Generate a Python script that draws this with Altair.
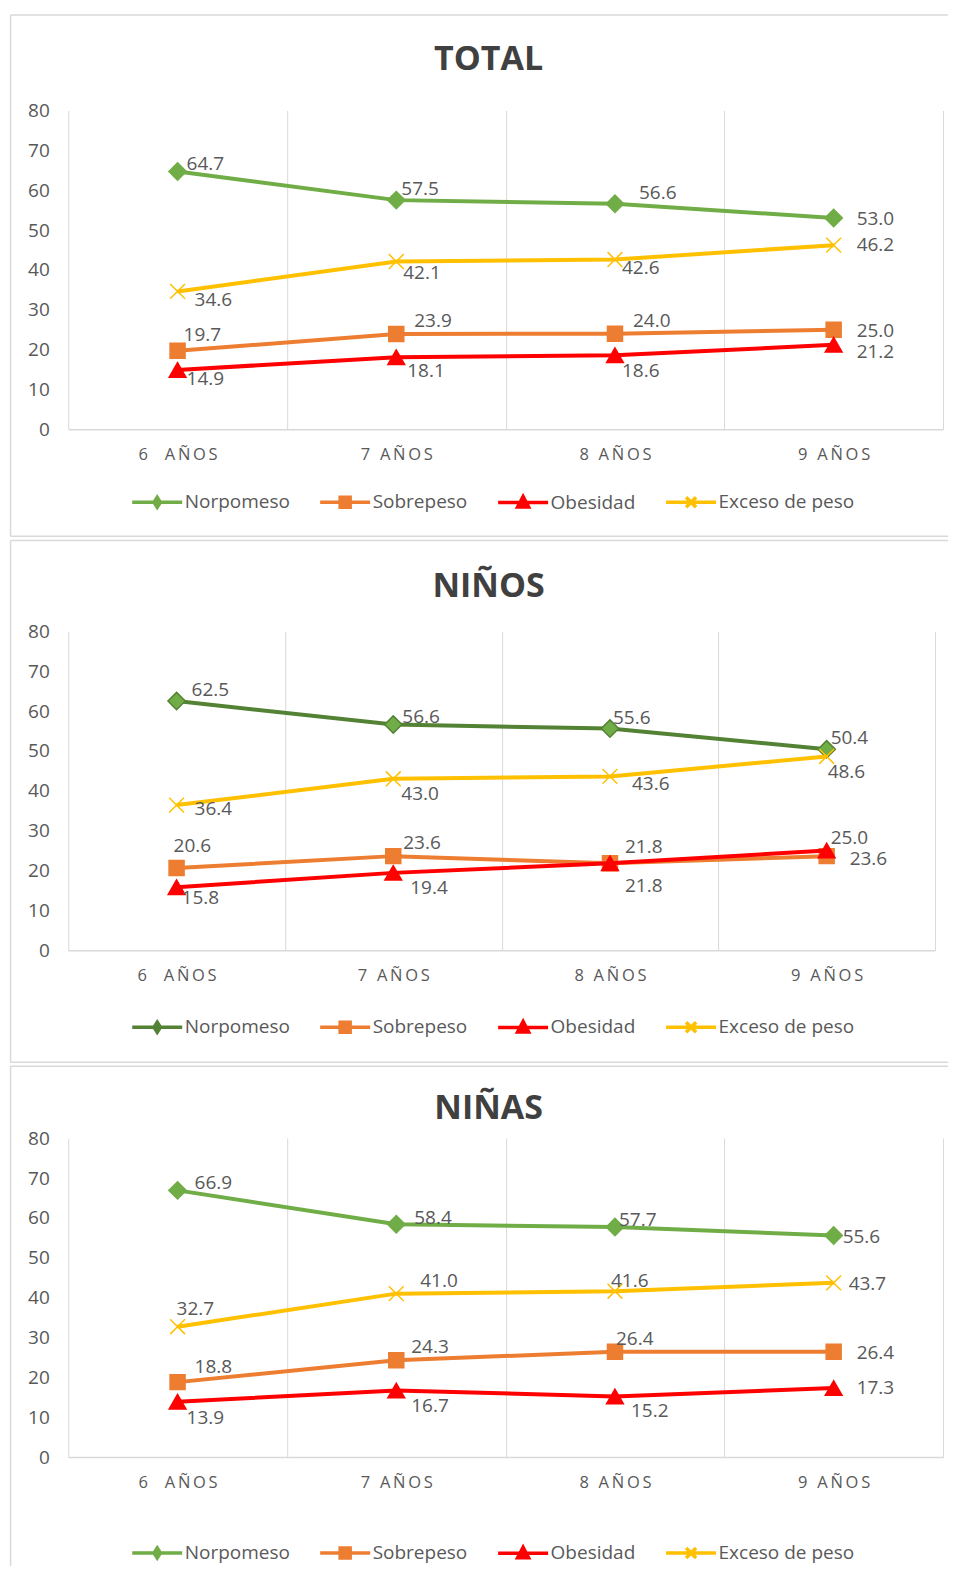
import altair as alt
import pandas as pd

# ---------------- data ----------------
CATEGORIES = ["6  AÑOS", "7 AÑOS", "8 AÑOS", "9 AÑOS"]
SERIES = ["Norpomeso", "Sobrepeso", "Obesidad", "Exceso de peso"]

TOTAL_NORPOMESO = [64.7, 57.5, 56.6, 53.0]
TOTAL_SOBREPESO = [19.7, 23.9, 24.0, 25.0]
TOTAL_OBESIDAD = [14.9, 18.1, 18.6, 21.2]
TOTAL_EXCESO = [34.6, 42.1, 42.6, 46.2]

NINOS_NORPOMESO = [62.5, 56.6, 55.6, 50.4]
NINOS_SOBREPESO = [20.6, 23.6, 21.8, 23.6]
NINOS_OBESIDAD = [15.8, 19.4, 21.8, 25.0]
NINOS_EXCESO = [36.4, 43.0, 43.6, 48.6]

NINAS_NORPOMESO = [66.9, 58.4, 57.7, 55.6]
NINAS_SOBREPESO = [18.8, 24.3, 26.4, 26.4]
NINAS_OBESIDAD = [13.9, 16.7, 15.2, 17.3]
NINAS_EXCESO = [32.7, 41.0, 41.6, 43.7]

# ---------------- label placement (pixel offsets from each point) ----------------
TOTAL_LABEL_OFFSETS = [
    [(9, -7), (5, -11), (24, -11), (23, 1)],
    [(6, -16), (18, -13), (18, -13), (23, 1)],
    [(9, 9), (11, 14), (7, 16), (23, 7)],
    [(17, 9), (7, 11), (7, 8), (23, 0)],
]
NINOS_LABEL_OFFSETS = [
    [(15, -11), (9, -8), (3, -11), (4, -11)],
    [(-3, -22), (10, -13), (15, -16), (23, 3)],
    [(5, 11), (17, 15), (15, 23), (4, -13)],
    [(18, 4), (8, 15), (22, 8), (1, 16)],
]
NINAS_LABEL_OFFSETS = [
    [(17, -7), (18, -6), (4, -7), (9, 2)],
    [(17, -15), (15, -13), (1, -13), (23, 1)],
    [(9, 16), (15, 16), (16, 15), (23, 0)],
    [(-1, -18), (24, -13), (-4, -10), (15, 1)],
]

# ---------------- styles ----------------
FONT = "Open Sans, Noto Sans, DejaVu Sans, sans-serif"
TEXT_GRAY = "#595959"
TITLE_GRAY = "#404040"
FRAME_GRAY = "#D9D9D9"
GREEN = "#70AD47"
DARK_GREEN = "#548235"
ORANGE = "#ED7D31"
RED = "#FF0000"
GOLD = "#FFC000"

CROSS = "M-1,-1L1,1M-1,1L1,-1"
POINT_SHAPES = ["diamond", "square", "triangle-up", CROSS]
POINT_SIZES = [300, 225, 280, 220]

LINE = "M-2.5,0L2.5,0"
LEGEND_PATHS = [
    LINE + "M0,-0.5L0.32,0L0,0.5L-0.32,0Z",
    LINE + "M-0.5,-0.5L0.5,-0.5L0.5,0.5L-0.5,0.5Z",
    LINE + "M0,-0.6L0.55,0.45L-0.55,0.45Z",
    LINE + "M-0.5,-0.5L0.5,0.5M-0.5,0.5L0.5,-0.5",
]

HEIGHT = 319
PXU = HEIGHT / 80.0

PANELS = [
    dict(title="TOTAL",
         values=[TOTAL_NORPOMESO, TOTAL_SOBREPESO, TOTAL_OBESIDAD, TOTAL_EXCESO],
         offsets=TOTAL_LABEL_OFFSETS,
         strokes=[GREEN, ORANGE, RED, GOLD], fills=[GREEN, ORANGE, RED, GOLD],
         width=875, title_y=-40, title_dx=-17,
         legend_x=77, legend_y=380, frame_top=-95.5, frame_bottom=426, bottom_rule=True),
    dict(title="NIÑOS",
         values=[NINOS_NORPOMESO, NINOS_SOBREPESO, NINOS_OBESIDAD, NINOS_EXCESO],
         offsets=NINOS_LABEL_OFFSETS,
         strokes=[DARK_GREEN, ORANGE, RED, GOLD], fills=[GREEN, ORANGE, RED, GOLD],
         width=867, title_y=-34, title_dx=-13,
         legend_x=77, legend_y=384, frame_top=-90.7, frame_bottom=431, bottom_rule=True),
    dict(title="NIÑAS",
         values=[NINAS_NORPOMESO, NINAS_SOBREPESO, NINAS_OBESIDAD, NINAS_EXCESO],
         offsets=NINAS_LABEL_OFFSETS,
         strokes=[GREEN, ORANGE, RED, GOLD], fills=[GREEN, ORANGE, RED, GOLD],
         width=875, title_y=-19.5, title_dx=-17,
         legend_x=77, legend_y=403, frame_top=-72, frame_bottom=428, bottom_rule=False),
]

FRAME_LEFT = -57.7
FRAME_RIGHT = 880


def make_panel(p):
    band = p["width"] / 4.0
    rows = []
    for si, s in enumerate(SERIES):
        for ci, c in enumerate(CATEGORIES):
            v = p["values"][si][ci]
            dx, dy = p["offsets"][si][ci]
            rows.append(dict(cat=c, series=s, value=v, label=f"{v:.1f}",
                             dx=dx + band / 2.0, ylab=v - dy / PXU))
    df = pd.DataFrame(rows)

    x = alt.X("cat:N", sort=CATEGORIES,
              scale=alt.Scale(type="band", paddingInner=0, paddingOuter=0),
              axis=alt.Axis(title=None, tickBand="extent", grid=True,
                            gridColor=FRAME_GRAY, gridWidth=1,
                            domainColor=FRAME_GRAY, domainWidth=1.5,
                            ticks=False, tickSize=0, labelPadding=25,
                            labelBaseline="middle", labelAngle=0,
                            labelFont=FONT, labelFontSize=16.5, labelColor=TEXT_GRAY,
                            labelExpr="join(split(datum.label, ''), '\u2009')"))
    y_scale = alt.Scale(domain=[0, 80], nice=False, zero=True)
    y_axis = alt.Axis(title=None, values=list(range(0, 81, 10)), domain=False,
                      ticks=False, tickSize=0, grid=False, labelPadding=19,
                      labelFont=FONT, labelFontSize=19, labelColor=TEXT_GRAY)
    y = alt.Y("value:Q", scale=y_scale, axis=y_axis)

    legend = alt.Legend(
        orient="none", legendX=p["legend_x"], legendY=p["legend_y"],
        direction="horizontal", title=None, padding=0,
        labelFont=FONT, labelFontSize=19, labelColor=TEXT_GRAY,
        symbolSize=400, symbolStrokeWidth=3.5, symbolOpacity=1,
        labelOffset=15.5, columnPadding=23,
    )

    base = alt.Chart(df)
    series_layers = []
    for s, stroke, fill, shp, sz in zip(SERIES, p["strokes"], p["fills"],
                                        POINT_SHAPES, POINT_SIZES):
        sub = base.transform_filter(alt.datum.series == s)
        series_layers.append(
            sub.mark_line(strokeWidth=4, color=stroke).encode(x=x, y=y))
        series_layers.append(
            sub.mark_point(filled=True, shape=shp, size=sz, strokeWidth=1.5,
                           opacity=1, fill=fill, stroke=stroke).encode(x=x, y=y))

    legend_layer = base.transform_filter("false").mark_point(
        filled=True, strokeWidth=3.5, opacity=1
    ).encode(
        x=x, y=y,
        stroke=alt.Stroke("series:N", scale=alt.Scale(domain=SERIES, range=p["strokes"]),
                          legend=legend),
        fill=alt.Fill("series:N", scale=alt.Scale(domain=SERIES, range=p["fills"]),
                      legend=legend),
        shape=alt.Shape("series:N", scale=alt.Scale(domain=SERIES, range=LEGEND_PATHS),
                        legend=legend),
    )
    labels = base.mark_text(align="left", baseline="middle", font=FONT,
                            fontSize=19, color=TEXT_GRAY).encode(
        x=x,
        y=alt.Y("ylab:Q", scale=y_scale, axis=y_axis),
        xOffset=alt.XOffset("dx:Q", scale=None),
        text="label:N",
    )

    one = alt.Chart(pd.DataFrame({"k": [0]}))
    title = one.mark_text(font=FONT, fontSize=34, fontWeight="bold", color=TITLE_GRAY,
                          align="center", baseline="alphabetic").encode(
        text=alt.value(p["title"]),
        x=alt.value(p["width"] / 2.0 + p["title_dx"]),
        y=alt.value(p["title_y"]),
    )
    frame_style = dict(color=FRAME_GRAY, strokeWidth=1.5)
    frames = [
        one.mark_rule(**frame_style).encode(
            x=alt.value(FRAME_LEFT), x2=alt.value(FRAME_RIGHT),
            y=alt.value(p["frame_top"]), y2=alt.value(p["frame_top"])),
        one.mark_rule(**frame_style).encode(
            x=alt.value(FRAME_LEFT), x2=alt.value(FRAME_LEFT),
            y=alt.value(p["frame_top"]), y2=alt.value(p["frame_bottom"])),
    ]
    if p["bottom_rule"]:
        frames.append(one.mark_rule(**frame_style).encode(
            x=alt.value(FRAME_LEFT), x2=alt.value(FRAME_RIGHT),
            y=alt.value(p["frame_bottom"]), y2=alt.value(p["frame_bottom"])))

    return alt.layer(*frames, title, *series_layers, legend_layer, labels).properties(
        width=p["width"], height=HEIGHT,
    )


chart = alt.vconcat(*[make_panel(p) for p in PANELS], spacing=2).resolve_scale(
    x="independent", y="independent", stroke="independent",
    fill="independent", shape="independent",
).resolve_legend(stroke="independent", fill="independent", shape="independent").properties(
    padding={"left": 1.25, "top": 5.25, "right": 0, "bottom": 0},
    background="white",
).configure_view(stroke=None)

chart.save("out.html", embed_options={"renderer": "svg", "actions": False})
